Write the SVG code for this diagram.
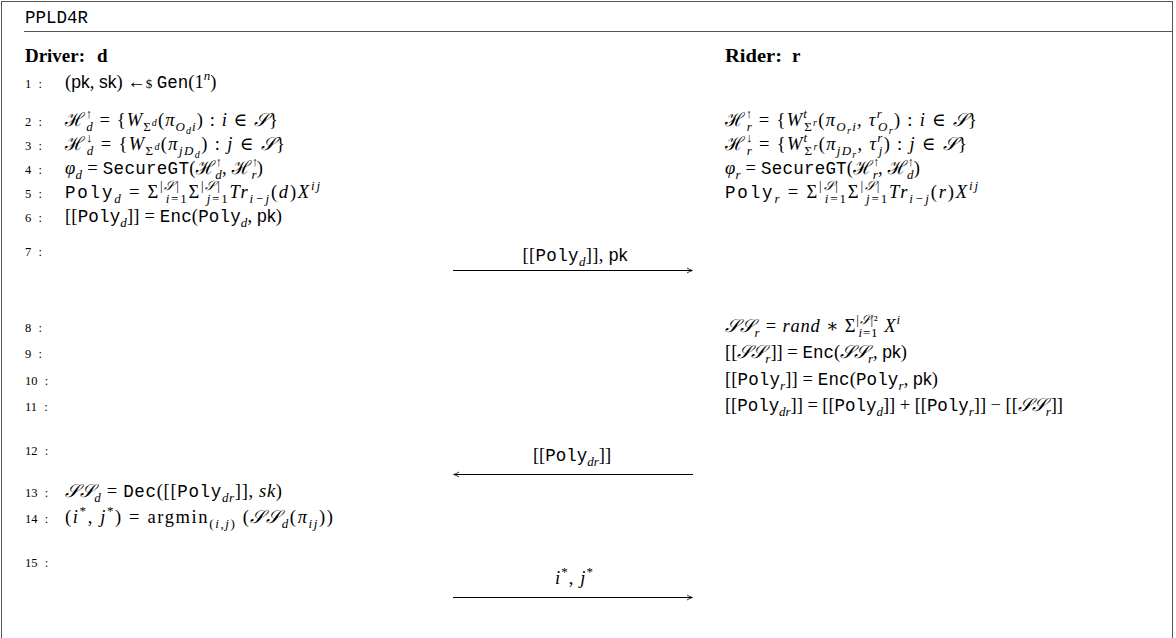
<svg xmlns="http://www.w3.org/2000/svg" width="1176" height="638" viewBox="0 0 1176 638">
<style>
text { font-family: "Liberation Serif", "DejaVu Serif", serif; font-size: 18.5px; fill: #000; }
.i { font-style: italic; }
.tt { font-family: "Liberation Mono", "DejaVu Sans Mono", monospace; font-size: 17.5px; font-style: normal; }
.sf { font-family: "Liberation Sans", "DejaVu Sans", sans-serif; font-size: 17.5px; }
.cal { font-family: "DejaVu Serif", "Noto Sans", serif; font-style: italic; }
.s { font-size: 13px; }
.ss { font-size: 10px; }
.num { font-size: 12.5px; word-spacing: 4px; }
.hd { font-weight: bold; font-size: 19px; }
.title { font-family: "Liberation Mono", monospace; font-size: 17.5px; }
.msg { stroke: #000; stroke-width: 1; fill: none; }
</style>
<defs>
<marker id="ah" markerWidth="8" markerHeight="8" refX="6" refY="4" orient="auto-start-reverse" markerUnits="userSpaceOnUse">
<path d="M1,1.5 Q4,3.5 6.5,4 Q4,4.5 1,6.5" fill="none" stroke="#000" stroke-width="0.8"/>
</marker>
</defs>
<rect x="1.5" y="1.5" width="1171" height="700" fill="#fff" stroke="#555" stroke-width="1"/>
<text class="title" x="25" y="23">PPLD4R</text>
<line x1="24" y1="31.5" x2="1172" y2="31.5" stroke="#555" stroke-width="1"/>

<g id="driver">
<text class="hd" x="25" y="62" textLength="60" lengthAdjust="spacingAndGlyphs">Driver:</text>
<text class="hd" x="97" y="62">d</text>
<g class="nums">
<text class="num" x="25" y="88">1 :</text>
<text class="num" x="25" y="126">2 :</text>
<text class="num" x="25" y="150">3 :</text>
<text class="num" x="25" y="174">4 :</text>
<text class="num" x="25" y="198">5 :</text>
<text class="num" x="25" y="222">6 :</text>
<text class="num" x="25" y="256">7 :</text>
<text class="num" x="25" y="332">8 :</text>
<text class="num" x="25" y="358">9 :</text>
<text class="num" x="25" y="385">10 :</text>
<text class="num" x="25" y="411">11 :</text>
<text class="num" x="25" y="455">12 :</text>
<text class="num" x="25" y="497">13 :</text>
<text class="num" x="25" y="523">14 :</text>
<text class="num" x="25" y="567">15 :</text>
</g>
<text x="65" y="88">(<tspan class="sf">pk</tspan>, <tspan class="sf">sk</tspan>) ←<tspan class="s">$</tspan> <tspan class="tt">Gen</tspan>(1<tspan class="s i" dy="-8">n</tspan><tspan dy="8">)</tspan></text>
<text x="65" y="126" textLength="213" lengthAdjust="spacing"><tspan class="cal">ℋ</tspan><tspan class="s" dy="-8">↑</tspan><tspan class="s i" dx="-7" dy="13">d</tspan><tspan dy="-5"> = {</tspan><tspan class="i">W</tspan><tspan class="s" dy="5">Σ</tspan><tspan class="ss i" dy="-5">d</tspan><tspan>(</tspan><tspan class="i">π</tspan><tspan class="s i" dy="5">O</tspan><tspan class="ss i" dy="3">d</tspan><tspan class="s i" dy="-3">i</tspan><tspan dy="-5">) : </tspan><tspan class="i">i</tspan> ∈ <tspan class="cal">𝒮</tspan>}</text>
<text x="65" y="150" textLength="220" lengthAdjust="spacing"><tspan class="cal">ℋ</tspan><tspan class="s" dy="-8">↓</tspan><tspan class="s i" dx="-7" dy="13">d</tspan><tspan dy="-5"> = {</tspan><tspan class="i">W</tspan><tspan class="s" dy="5">Σ</tspan><tspan class="ss i" dy="-5">d</tspan><tspan>(</tspan><tspan class="i">π</tspan><tspan class="s i" dy="5">jD</tspan><tspan class="ss i" dy="3">d</tspan><tspan dy="-8">) : </tspan><tspan class="i">j</tspan> ∈ <tspan class="cal">𝒮</tspan>}</text>
<text x="65" y="174" textLength="198" lengthAdjust="spacing"><tspan class="i">φ</tspan><tspan class="s i" dy="5">d</tspan><tspan dy="-5"> = </tspan><tspan class="tt">SecureGT</tspan>(<tspan class="cal">ℋ</tspan><tspan class="s" dy="-8">↑</tspan><tspan class="s i" dx="-7" dy="13">d</tspan><tspan dy="-5">, </tspan><tspan class="cal">ℋ</tspan><tspan class="s" dy="-8">↑</tspan><tspan class="s i" dx="-7" dy="13">r</tspan><tspan dy="-5">)</tspan></text>
<text x="65" y="198" textLength="255" lengthAdjust="spacing"><tspan class="tt">Poly</tspan><tspan class="s i" dy="5">d</tspan><tspan dy="-5"> = Σ</tspan><tspan class="s" dy="-8">|<tspan class="cal">𝒮</tspan>|</tspan><tspan class="s" dx="-15" dy="13"><tspan class="i">i</tspan>=1</tspan><tspan dy="-5">Σ</tspan><tspan class="s" dy="-8">|<tspan class="cal">𝒮</tspan>|</tspan><tspan class="s" dx="-15" dy="13"><tspan class="i">j</tspan>=1</tspan><tspan class="i" dy="-5">Tr</tspan><tspan class="s i" dy="5">i−j</tspan><tspan dy="-5">(<tspan class="i">d</tspan>)</tspan><tspan class="i">X</tspan><tspan class="s i" dy="-8">ij</tspan></text>
<text x="65" y="222" textLength="217" lengthAdjust="spacing">[[<tspan class="tt">Poly</tspan><tspan class="s i" dy="5">d</tspan><tspan dy="-5">]] = </tspan><tspan class="tt">Enc</tspan>(<tspan class="tt">Poly</tspan><tspan class="s i" dy="5">d</tspan><tspan dy="-5">, </tspan><tspan class="sf">pk</tspan>)</text>
<text x="65" y="497" textLength="217" lengthAdjust="spacing"><tspan class="cal">𝒮𝒮</tspan><tspan class="s i" dy="5">d</tspan><tspan dy="-5"> = </tspan><tspan class="tt">Dec</tspan>([[<tspan class="tt">Poly</tspan><tspan class="s i" dy="5">dr</tspan><tspan dy="-5">]], </tspan><tspan class="i">sk</tspan>)</text>
<text x="65" y="523" textLength="268" lengthAdjust="spacing">(<tspan class="i">i</tspan><tspan class="s" dy="-8">*</tspan><tspan dy="8">, </tspan><tspan class="i">j</tspan><tspan class="s" dy="-8">*</tspan><tspan dy="8">) = argmin</tspan><tspan class="s" dy="5">(<tspan class="i">i,j</tspan>)</tspan><tspan dy="-5">  (</tspan><tspan class="cal">𝒮𝒮</tspan><tspan class="s i" dy="5">d</tspan><tspan dy="-5">(</tspan><tspan class="i">π</tspan><tspan class="s i" dy="5">ij</tspan><tspan dy="-5">))</tspan></text>
</g>

<g id="rider">
<text class="hd" x="725" y="62" textLength="57" lengthAdjust="spacingAndGlyphs">Rider:</text>
<text class="hd" x="792" y="62">r</text>
<text x="725" y="126" textLength="252" lengthAdjust="spacing"><tspan class="cal">ℋ</tspan><tspan class="s" dy="-8">↑</tspan><tspan class="s i" dx="-7" dy="13">r</tspan><tspan dy="-5"> = {</tspan><tspan class="i">W</tspan><tspan class="s i" dy="-8">t</tspan><tspan class="s" dx="-4" dy="13">Σ</tspan><tspan class="ss i" dy="-5">r</tspan><tspan>(</tspan><tspan class="i">π</tspan><tspan class="s i" dy="5">O</tspan><tspan class="ss i" dy="3">r</tspan><tspan class="s i" dy="-3">i</tspan><tspan dy="-5">, </tspan><tspan class="i">τ</tspan><tspan class="s i" dy="-8">r</tspan><tspan class="s i" dx="-5" dy="13">O</tspan><tspan class="ss i" dy="3">r</tspan><tspan dy="-8">) : </tspan><tspan class="i">i</tspan> ∈ <tspan class="cal">𝒮</tspan>}</text>
<text x="725" y="150" textLength="242" lengthAdjust="spacing"><tspan class="cal">ℋ</tspan><tspan class="s" dy="-8">↓</tspan><tspan class="s i" dx="-7" dy="13">r</tspan><tspan dy="-5"> = {</tspan><tspan class="i">W</tspan><tspan class="s i" dy="-8">t</tspan><tspan class="s" dx="-4" dy="13">Σ</tspan><tspan class="ss i" dy="-5">r</tspan><tspan>(</tspan><tspan class="i">π</tspan><tspan class="s i" dy="5">jD</tspan><tspan class="ss i" dy="3">r</tspan><tspan dy="-8">, </tspan><tspan class="i">τ</tspan><tspan class="s i" dy="-8">r</tspan><tspan class="s i" dx="-5" dy="13">j</tspan><tspan dy="-5">) : </tspan><tspan class="i">j</tspan> ∈ <tspan class="cal">𝒮</tspan>}</text>
<text x="725" y="174" textLength="195" lengthAdjust="spacing"><tspan class="i">φ</tspan><tspan class="s i" dy="5">r</tspan><tspan dy="-5"> = </tspan><tspan class="tt">SecureGT</tspan>(<tspan class="cal">ℋ</tspan><tspan class="s" dy="-8">↑</tspan><tspan class="s i" dx="-7" dy="13">r</tspan><tspan dy="-5">, </tspan><tspan class="cal">ℋ</tspan><tspan class="s" dy="-8">↑</tspan><tspan class="s i" dx="-7" dy="13">d</tspan><tspan dy="-5">)</tspan></text>
<text x="725" y="198" textLength="253" lengthAdjust="spacing"><tspan class="tt">Poly</tspan><tspan class="s i" dy="5">r</tspan><tspan dy="-5"> = Σ</tspan><tspan class="s" dy="-8">|<tspan class="cal">𝒮</tspan>|</tspan><tspan class="s" dx="-15" dy="13"><tspan class="i">i</tspan>=1</tspan><tspan dy="-5">Σ</tspan><tspan class="s" dy="-8">|<tspan class="cal">𝒮</tspan>|</tspan><tspan class="s" dx="-15" dy="13"><tspan class="i">j</tspan>=1</tspan><tspan class="i" dy="-5">Tr</tspan><tspan class="s i" dy="5">i−j</tspan><tspan dy="-5">(<tspan class="i">r</tspan>)</tspan><tspan class="i">X</tspan><tspan class="s i" dy="-8">ij</tspan></text>
<text x="725" y="332" textLength="175" lengthAdjust="spacing"><tspan class="cal">𝒮𝒮</tspan><tspan class="s i" dy="5">r</tspan><tspan dy="-5"> = </tspan><tspan class="i">rand</tspan> ∗ Σ<tspan class="s" dy="-8">|<tspan class="cal">𝒮</tspan>|²</tspan><tspan class="s" dx="-20" dy="13"><tspan class="i">i</tspan>=1</tspan><tspan class="i" dy="-5" dx="6">X</tspan><tspan class="s i" dy="-8">i</tspan></text>
<text x="725" y="358" textLength="182" lengthAdjust="spacing">[[<tspan class="cal">𝒮𝒮</tspan><tspan class="s i" dy="5">r</tspan><tspan dy="-5">]] = </tspan><tspan class="tt">Enc</tspan>(<tspan class="cal">𝒮𝒮</tspan><tspan class="s i" dy="5">r</tspan><tspan dy="-5">, </tspan><tspan class="sf">pk</tspan>)</text>
<text x="725" y="385" textLength="213" lengthAdjust="spacing">[[<tspan class="tt">Poly</tspan><tspan class="s i" dy="5">r</tspan><tspan dy="-5">]] = </tspan><tspan class="tt">Enc</tspan>(<tspan class="tt">Poly</tspan><tspan class="s i" dy="5">r</tspan><tspan dy="-5">, </tspan><tspan class="sf">pk</tspan>)</text>
<text x="725" y="411" textLength="338" lengthAdjust="spacing">[[<tspan class="tt">Poly</tspan><tspan class="s i" dy="5">dr</tspan><tspan dy="-5">]] = [[</tspan><tspan class="tt">Poly</tspan><tspan class="s i" dy="5">d</tspan><tspan dy="-5">]] + [[</tspan><tspan class="tt">Poly</tspan><tspan class="s i" dy="5">r</tspan><tspan dy="-5">]] − [[</tspan><tspan class="cal">𝒮𝒮</tspan><tspan class="s i" dy="5">r</tspan><tspan dy="-5">]]</tspan></text>
</g>

<g id="messages">
<line class="msg" x1="453" y1="270.5" x2="692" y2="270.5" marker-end="url(#ah)"/>
<text x="575" y="261" text-anchor="middle" textLength="105" lengthAdjust="spacing">[[<tspan class="tt">Poly</tspan><tspan class="s i" dy="5">d</tspan><tspan dy="-5">]],  </tspan><tspan class="sf">pk</tspan></text>
<line class="msg" x1="454" y1="474.5" x2="693" y2="474.5" marker-start="url(#ah)"/>
<text x="572" y="461" text-anchor="middle">[[<tspan class="tt">Poly</tspan><tspan class="s i" dy="5">dr</tspan><tspan dy="-5">]]</tspan></text>
<line class="msg" x1="453" y1="597.5" x2="692" y2="597.5" marker-end="url(#ah)"/>
<text x="574" y="584" text-anchor="middle" textLength="38" lengthAdjust="spacing"><tspan class="i">i</tspan><tspan class="s" dy="-8">*</tspan><tspan dy="8">,  </tspan><tspan class="i">j</tspan><tspan class="s" dy="-8">*</tspan></text>
</g>
</svg>
